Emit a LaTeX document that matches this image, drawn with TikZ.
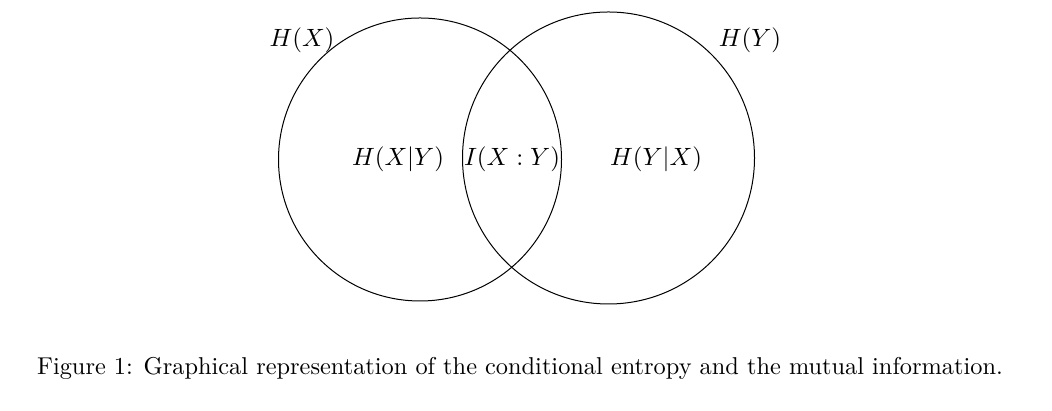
\documentclass[tikz,border=0pt]{standalone}
\usetikzlibrary{positioning}

\begin{document}
\begin{tikzpicture}[
    x=0.4pt, y=0.4pt,
    set/.style={draw, thin},
    lbl/.style={inner sep=1pt}
]
    \useasboundingbox (0,0) rectangle (1052,411);

    \coordinate (cX) at (420,251.5);
    \coordinate (cY) at (608.5,253);

    \draw[set] (cX) circle[radius=141.5];
    \draw[set] (cY) circle[radius=146];

    \node[lbl] (hx)  at (302,371) {$H(X)$};
    \node[lbl] (hy)  at (750,371) {$H(Y)$};
    \node[lbl] (hxy) at (398,252) {$H(X|Y)$};
    \node[lbl] (ixy) at (512,252) {$I(X:Y)$};
    \node[lbl] (hyx) at (656,252) {$H(Y|X)$};

    \node[scale=0.974] (cap) at (520,43) {Figure 1: Graphical representation of the conditional entropy and the mutual information.};
\end{tikzpicture}
\end{document}
